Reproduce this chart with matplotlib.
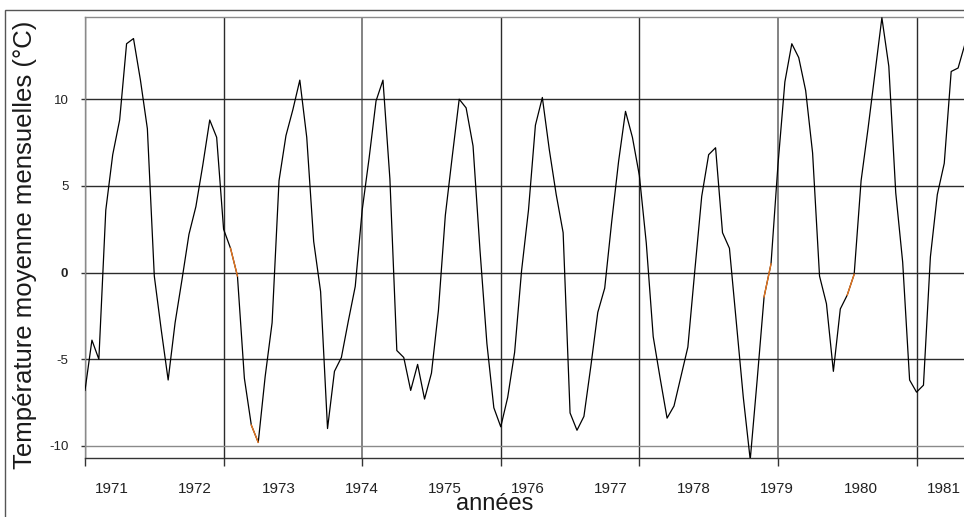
import matplotlib
matplotlib.use("Agg")
import matplotlib.pyplot as plt
from matplotlib.patches import Rectangle

plt.rcParams['font.family'] = ['Liberation Sans', 'DejaVu Sans']

# temperature moyenne mensuelle, un point par mois
temp = [-6.8, -3.9, -5.0, 3.6, 6.8, 8.8, 13.2, 13.5, 11.1, 8.3,
        -0.2, -3.3, -6.2, -2.9, -0.4, 2.2, 3.8, 6.2, 8.8, 7.8,
        2.5, 1.4, -0.2, -6.1, -8.8, -9.8, -6.0, -2.9, 5.3, 7.9,
        9.4, 11.1, 7.8, 1.8, -1.1, -9.0, -5.7, -4.9, -2.8, -0.8,
        3.6, 6.6, 9.9, 11.1, 5.4, -4.5, -4.9, -6.8, -5.3, -7.3,
        -5.8, -2.2, 3.3, 6.7, 10.0, 9.5, 7.3, 1.3, -4.1, -7.8,
        -8.9, -7.2, -4.6, 0.1, 3.6, 8.5, 10.1, 7.1, 4.5, 2.3,
        -8.1, -9.1, -8.3, -5.4, -2.3, -0.9, 2.9, 6.4, 9.3, 7.8,
        5.6, 1.7, -3.7, -6.1, -8.4, -7.7, -6.0, -4.3, 0.1, 4.4,
        6.8, 7.2, 2.3, 1.4, -2.9, -7.2, -10.8, -6.2, -1.4, 0.5,
        6.2, 11.0, 13.2, 12.4, 10.5, 6.9, -0.2, -1.8, -5.7, -2.1,
        -1.3, -0.1, 5.3, 8.3, 11.5, 14.7, 11.9, 4.6, 0.6, -6.2,
        -6.9, -6.5, 0.9, 4.5, 6.3, 11.6, 11.8, 13.2]
months = list(range(len(temp)))
# segments (debut) tracés en orange
orange_start = [21, 24, 98, 110]

years = ['1971', '1972', '1973', '1974', '1975', '1976', '1977', '1978', '1979', '1980', '1981']
year_pos = [3.9 + 12 * k for k in range(len(years))]
yticks = [-10, -5, 0, 5, 10]

fig = plt.figure(figsize=(9.64, 5.17), dpi=100)
ax = fig.add_axes([85 / 964, 59 / 517, 879 / 964, 441.3 / 517])

ax.plot(months, temp, color='black', lw=0.9, zorder=3)
for s in orange_start:
    ax.plot(months[s:s + 2], temp[s:s + 2], color='#e8761e', lw=1.0, zorder=4)

ax.set_xlim(0, 126.85)
ax.set_ylim(-10.7, 14.76)

ax.set_xticks(range(0, 121, 20))
ax.set_xticklabels([])
ax.set_xticks(year_pos, minor=True)
ax.set_xticklabels(years, minor=True)
ax.tick_params(axis='x', which='major', direction='out', length=6, width=1, color='#333333')
ax.tick_params(axis='x', which='minor', length=0, pad=17, labelsize=11, labelcolor='#222222')

ax.set_yticks(yticks)
ax.set_yticklabels([str(v) for v in yticks])
ax.tick_params(axis='y', direction='out', length=3, width=1, color='#333333', pad=9,
               labelsize=9.5, labelcolor='#222222')
for lab in ax.get_yticklabels():
    if lab.get_text() == '0':
        lab.set_fontweight('bold')

ax.grid(True, which='major', color='#2b2b2b', lw=1.0, zorder=1)
for v, gl in zip(yticks, ax.yaxis.get_gridlines()):
    if v == -10:
        gl.set_color('#8a8a8a')
for k, gl in enumerate(ax.xaxis.get_gridlines()):
    if k in (2, 5):
        gl.set_color('#7a7a7a')
        gl.set_linewidth(1.3)

ax.spines['right'].set_visible(False)
ax.spines['top'].set_color('#8a8a8a')
ax.spines['left'].set_color('#8a8a8a')
ax.spines['bottom'].set_color('#333333')
for sp in ax.spines.values():
    sp.set_linewidth(1.0)

ax.set_ylabel('Température moyenne mensuelles (°C)', fontsize=18.5, color='#1a1a1a')
ax.yaxis.set_label_coords(-48 / 879, 0.483)
ax.set_xlabel('années', fontsize=17, color='#1a1a1a')
ax.xaxis.set_label_coords(410 / 879, -35 / 441.3)

fig.add_artist(Rectangle((5 / 964, -0.2), 1.2, 1.2 + (517 - 9.5) / 517 - 1,
                         transform=fig.transFigure, fill=False, edgecolor='#555555', lw=1.0))

fig.savefig('out.png', dpi=100)
